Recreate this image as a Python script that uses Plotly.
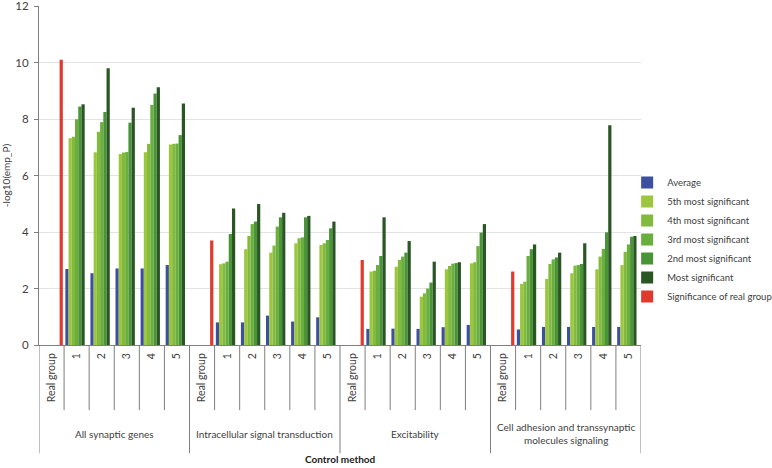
import plotly.graph_objects as go

groups = ["All synaptic genes", "Intracellular signal transduction", "Excitability",
          "Cell adhesion and transsynaptic<br>molecules signaling"]
methods = ["Real group", "1", "2", "3", "4", "5"]

series_names = ["Average", "5th most significant", "4th most significant",
                "3rd most significant", "2nd most significant", "Most significant"]
series_colors = ["#3d4f9f", "#9cc63e", "#82ba3d", "#6aae3e", "#4a9438", "#2a5624"]

# real group significance, one per gene group
real_sig = [10.1, 3.7, 3.01, 2.6]
real_color = "#e0392e"

# control-method values: [group][method 1..5] for each series
average = [[2.69, 2.54, 2.71, 2.71, 2.83],
           [0.80, 0.80, 1.04, 0.83, 0.98],
           [0.57, 0.58, 0.57, 0.63, 0.71],
           [0.55, 0.64, 0.64, 0.64, 0.64]]
fifth = [[7.32, 6.82, 6.76, 6.82, 7.10],
         [2.86, 3.39, 3.27, 3.60, 3.54],
         [2.60, 2.77, 1.71, 2.68, 2.89],
         [2.16, 2.34, 2.54, 2.68, 2.83]]
fourth = [[7.37, 7.55, 6.81, 7.12, 7.12],
          [2.89, 3.86, 3.52, 3.78, 3.60],
          [2.63, 3.01, 1.83, 2.80, 2.93],
          [2.24, 2.87, 2.81, 3.13, 3.30]]
third = [[7.99, 7.89, 6.83, 8.50, 7.13],
         [2.95, 4.28, 4.19, 3.81, 3.72],
         [2.83, 3.13, 2.00, 2.88, 3.50],
         [3.15, 3.03, 2.83, 3.40, 3.56]]
second = [[8.44, 8.25, 7.87, 8.90, 7.43],
          [3.93, 4.37, 4.52, 4.52, 4.13],
          [3.15, 3.27, 2.21, 2.90, 3.98],
          [3.39, 3.10, 2.87, 3.99, 3.83]]
most = [[8.52, 9.80, 8.40, 9.12, 8.55],
        [4.83, 4.99, 4.68, 4.57, 4.37],
        [4.52, 3.68, 2.95, 2.93, 4.28],
        [3.56, 3.27, 3.60, 7.78, 3.86]]

series_values = [average, fifth, fourth, third, second, most]
y_ticks = [0, 2, 4, 6, 8, 10, 12]

n_m = len(methods)
x_pos = list(range(len(groups) * n_m))
tick_text = methods * len(groups)

font_family = "Lato, 'Open Sans', sans-serif"
txt_color = "#404040"

fig = go.Figure()
for s, (name, col) in enumerate(zip(series_names, series_colors)):
    ys = []
    for g in range(len(groups)):
        ys.append(None)
        ys.extend(series_values[s][g])
    fig.add_trace(go.Bar(x=x_pos, y=ys, name=name, marker_color=col,
                         marker_line_width=0))
ys_real = []
for g in range(len(groups)):
    ys_real.append(real_sig[g])
    ys_real.extend([None] * (n_m - 1))
fig.add_trace(go.Bar(x=x_pos, y=ys_real, name="Significance of real group",
                     marker_color=real_color, marker_line_width=0))

# table-like separators under the x axis
shapes = []
for g in range(len(groups) + 1):
    xb = g * n_m - 0.5
    shapes.append(dict(type="line", xref="x", yref="paper", x0=xb, x1=xb,
                       y0=0, y1=-0.319, line=dict(color="#7f7f7f", width=1)))
for g in range(len(groups)):
    for k in range(1, n_m):
        xb = g * n_m + k - 0.5
        shapes.append(dict(type="line", xref="x", yref="paper", x0=xb, x1=xb,
                           y0=0, y1=-0.192, line=dict(color="#7f7f7f", width=1)))

annotations = []
for g, name in enumerate(groups):
    annotations.append(dict(x=g * n_m + (n_m - 1) / 2, y=-0.262, xref="x", yref="paper",
                            text=name, showarrow=False, xanchor="center", yanchor="middle",
                            font=dict(size=10, color=txt_color, family=font_family)))
annotations.append(dict(x=0.5, y=-0.336, xref="paper", yref="paper",
                        text="<b>Control method</b>", showarrow=False,
                        xanchor="center", yanchor="middle",
                        font=dict(size=10, color="#202020", family=font_family)))

fig.update_layout(
    width=772, height=468,
    margin=dict(l=39, r=131, t=6, b=123, autoexpand=False),
    paper_bgcolor="white", plot_bgcolor="white",
    barmode="group", bargap=0.1, bargroupgap=0,
    font=dict(family=font_family, color=txt_color),
    shapes=shapes, annotations=annotations,
    showlegend=True,
    legend=dict(x=0.977, xanchor="left", y=0.522, yanchor="top",
                bgcolor="rgba(0,0,0,0)", font=dict(size=9.5, color=txt_color),
                itemwidth=30, tracegroupgap=0),
    xaxis=dict(tickmode="array", tickvals=x_pos, ticktext=tick_text, tickangle=-90,
               range=[-0.5, len(x_pos) - 0.5], showgrid=False, zeroline=False,
               showline=True, linecolor="#7f7f7f", linewidth=1, ticks="",
               automargin=False, ticklabelstandoff=3,
               tickfont=dict(size=10.5, color=txt_color)),
    yaxis=dict(range=[0, 12], tickvals=y_ticks, showgrid=True, gridcolor="#e3e3e3",
               gridwidth=1, zeroline=False, showline=True, linecolor="#7f7f7f",
               linewidth=1, ticks="outside", ticklen=4, tickcolor="#7f7f7f",
               automargin=False, ticklabelstandoff=3, ticklabeloverflow="allow",
               tickfont=dict(size=11.5, color=txt_color),
               title=dict(text="-log10(emp_P)", font=dict(size=10, color=txt_color),
                          standoff=8)),
)

fig.write_html("out.html", config={"displayModeBar": False},
               post_script="document.body.style.margin='0';document.body.style.overflow='hidden';")
